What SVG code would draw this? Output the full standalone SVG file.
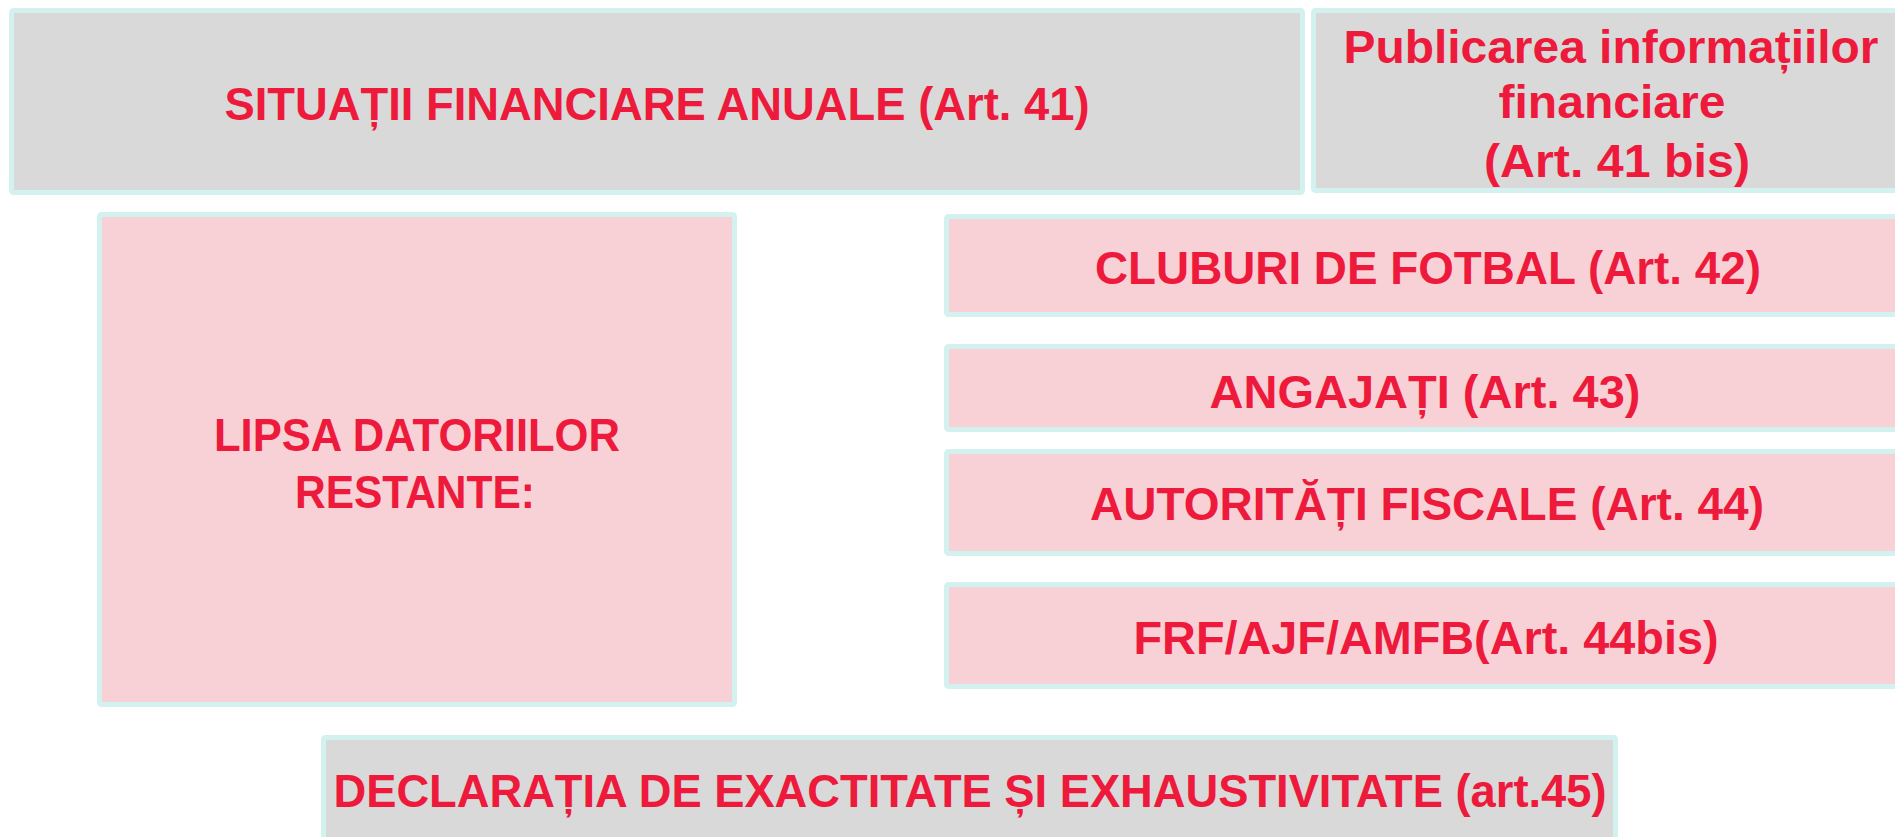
<svg xmlns="http://www.w3.org/2000/svg" width="1895" height="837" viewBox="0 0 1895 837">
<style>
.box{stroke:#D3F1EE;stroke-width:5}
.gray{fill:#D9D9D9}
.pink{fill:#F8D1D7}
.t{font-family:"Liberation Sans",Arial,sans-serif;font-weight:bold;font-size:47px;fill:#ED1A3B;text-anchor:middle}
</style>
<rect width="1895" height="837" fill="#FFFFFF"/>
<g id="connectors"/>
<g id="situatii">
<rect class="box gray" x="11.5" y="10.5" width="1291" height="182" rx="2"/>
<text class="t" x="657" y="120" textLength="865" lengthAdjust="spacingAndGlyphs">SITUAȚII FINANCIARE ANUALE (Art. 41)</text>
</g>
<g id="publicarea">
<rect class="box gray" x="1313.5" y="10.5" width="610" height="180" rx="2"/>
<text class="t" x="1611" y="63" textLength="535" lengthAdjust="spacingAndGlyphs">Publicarea informațiilor</text>
<text class="t" x="1612" y="118" textLength="227" lengthAdjust="spacingAndGlyphs">financiare</text>
<text class="t" x="1617" y="177" textLength="266" lengthAdjust="spacingAndGlyphs">(Art. 41 bis)</text>
</g>
<g id="lipsa">
<rect class="box pink" x="99.5" y="214.5" width="635" height="490" rx="2"/>
<text class="t" x="417" y="451" textLength="406" lengthAdjust="spacingAndGlyphs">LIPSA DATORIILOR</text>
<text class="t" x="415" y="508" textLength="240" lengthAdjust="spacingAndGlyphs">RESTANTE:</text>
</g>
<g id="cluburi">
<rect class="box pink" x="946.5" y="216.5" width="980" height="98" rx="2"/>
<text class="t" x="1428" y="284" textLength="666" lengthAdjust="spacingAndGlyphs">CLUBURI DE FOTBAL (Art. 42)</text>
</g>
<g id="angajati">
<rect class="box pink" x="946.5" y="346.5" width="980" height="83" rx="2"/>
<text class="t" x="1425" y="408" textLength="431" lengthAdjust="spacingAndGlyphs">ANGAJAȚI (Art. 43)</text>
</g>
<g id="autoritati">
<rect class="box pink" x="946.5" y="451.5" width="980" height="102" rx="2"/>
<text class="t" x="1427" y="520" textLength="674" lengthAdjust="spacingAndGlyphs">AUTORITĂȚI FISCALE (Art. 44)</text>
</g>
<g id="frf">
<rect class="box pink" x="946.5" y="584.5" width="980" height="102" rx="2"/>
<text class="t" x="1426" y="654" textLength="585" lengthAdjust="spacingAndGlyphs">FRF/AJF/AMFB(Art. 44bis)</text>
</g>
<g id="declaratia">
<rect class="box gray" x="323.5" y="737.5" width="1292" height="120" rx="2"/>
<text class="t" x="970" y="807" textLength="1273" lengthAdjust="spacingAndGlyphs">DECLARAȚIA DE EXACTITATE ȘI EXHAUSTIVITATE (art.45)</text>
</g>
</svg>
